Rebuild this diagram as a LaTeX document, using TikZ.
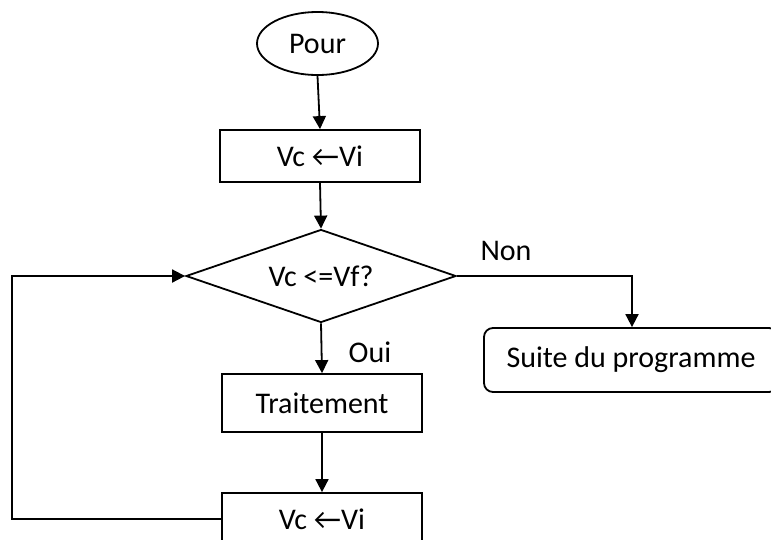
\documentclass[tikz,border=0pt]{standalone}
\usepackage{fontspec}
\setmainfont{Carlito}
\usetikzlibrary{shapes.geometric,arrows.meta}

\tikzset{
  flow/.style={line width=1.8pt, -{Triangle[length=13pt,width=13pt]}},
  box/.style={draw, line width=1.8pt, rectangle, minimum width=200pt, inner sep=0pt},
  lbl/.style={inner sep=0pt},
}

\begin{document}
\begin{tikzpicture}[x=1pt, y=-1pt, font=\fontsize{30}{35}\selectfont]
  \useasboundingbox (0,0) rectangle (771,539);
  \clip (0,0) rectangle (771,539);

  % start terminal
  \node[draw, ellipse, line width=1.8pt, minimum width=121pt, minimum height=63pt, inner sep=0pt]
    (pour) at (317.5,43.5) {Pour};

  % initialisation
  \node[box, minimum height=52pt] (init) at (320,156) {Vc ←Vi};

  % loop test
  \node[draw, diamond, aspect=2.9, line width=1.8pt, minimum width=270pt, minimum height=93pt, inner sep=0pt]
    (test) at (321,276) {Vc <=Vf?};

  % loop body
  \node[box, minimum height=58pt] (body) at (322,403) {Traitement};

  % increment
  \node[box, minimum height=52pt] (incr) at (322,519) {Vc ←Vi};

  % exit
  \node[draw, line width=1.8pt, rectangle, rounded corners=9pt, minimum width=294pt,
        minimum height=64pt, inner sep=0pt] (suite) at (631,360) {Suite du programme};

  % labels
  \node[lbl] (non) at (506,251) {Non};
  \node[lbl] (oui) at (370,352) {Oui};

  % connectors
  \coordinate (left) at (12,0);
  \draw[flow] (pour.south) -- (init.north);
  \draw[flow] (init.south) -- (test.north);
  \draw[flow] (test.south) -- (body.north);
  \draw[flow] (body.south) -- (incr.north);
  \draw[flow] (test.east) -| (suite.north -| 632,0);
  \draw[flow] (incr.west) -| (left |- test.west) -- (test.west);
\end{tikzpicture}
\end{document}
